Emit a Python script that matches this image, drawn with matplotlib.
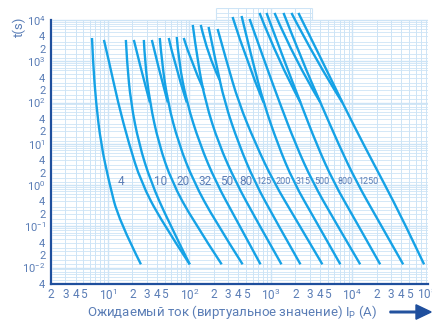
import matplotlib
matplotlib.use("Agg")
import matplotlib.pyplot as plt
from matplotlib.path import Path
from matplotlib.patches import PathPatch, FancyArrow
import numpy as np

# pyright: reportUnknownMemberType=false

plt.rcParams["font.family"] = ["Roboto", "DejaVu Sans"]
plt.rcParams["mathtext.default"] = "regular"

# time levels (s) at which the lower curves were read; first entry per curve is its own top time
level_t = [1000, 100, 10, 1.2, 0.14, 0.012]

# main curves: top time, then current (A) at top and at each of level_t
main_top_t = [3660, 3280, 3280, 3280, 3660, 3880, 7570, 6770, 6060, 12500, 10600, 14800, 14800, 14800]
main_i = [
    [6.37, 6.55, 7.13, 8.21, 10.3, 13.6, 25.4],
    [8.93, 10.3, 13.3, 18.1, 25.4, 44.6, 101],
    [16.6, 17.1, 19.1, 24.0, 33.6, 54.3, 101],
    [27.6, 28.4, 32.7, 42.1, 60.8, 110, 249],
    [43.3, 45.8, 54.3, 74.0, 113, 204, 450],
    [70.0, 74.0, 92.8, 134, 210, 380, 747],
    [110, 126, 158, 229, 369, 667, 1350],
    [172, 210, 271, 402, 631, 1140, 2310],
    [222, 286, 402, 649, 1080, 2060, 4290],
    [437, 596, 813, 1210, 1890, 3520, 7130],
    [548, 836, 1280, 2000, 3240, 6020, 12500],
    [885, 1470, 2310, 3620, 5850, 10900, 22000],
    [1430, 2440, 4060, 6740, 11200, 20800, 42100],
    [2180, 4290, 7540, 13600, 24000, 42100, 76100],
]

# shorter curves that start at the top and run into a neighbour
branch_t = [
    [3280, 1000, 100], [3280, 1000, 100], [3660, 1000, 100], [3660, 1000, 202], [7570, 1420, 353],
    [11800, 1000, 100], [14800, 1000, 100], [14800, 1000, 100], [14800, 1000, 100],
]
branch_i = [
    [20.8, 24.0, 32.7], [34.6, 39.8, 54.3], [55.8, 64.3, 92.8], [85.2, 104, 150], [138, 168, 235],
    [339, 504, 813], [726, 1240, 2310], [1110, 2000, 4060], [1790, 3620, 7540],
]

label_text = ["4", "10", "20", "32", "50", "80", "125", "200", "315", "500", "800", "1250"]
label_i = [14.4, 44.6, 82.8, 158, 287, 490, 813, 1430, 2510, 4290, 8200, 15700]
label_t = 1.2

y_ticks = [1e4, 4e3, 2e3, 1e3, 4e2, 2e2, 1e2, 40, 20, 10, 4, 2, 1, 0.4, 0.2, 0.1, 0.04, 0.02, 0.01, 0.004]
y_labels = ["10$^{4}$", "4", "2", "10$^{3}$", "4", "2", "10$^{2}$", "4", "2", "10$^{1}$", "4", "2",
            "10$^{0}$", "4", "2", "10$^{-1}$", "4", "2", "10$^{-2}$", "4"]
x_ticks = [2, 3, 4, 5, 10, 20, 30, 40, 50, 100, 200, 300, 400, 500, 1e3, 2e3, 3e3, 4e3, 5e3,
           1e4, 2e4, 3e4, 4e4, 5e4]
x_labels = ["2", "3", "4", "5", "10$^{1}$", "2", "3", "4", "5", "10$^{2}$", "2", "3", "4", "5",
            "10$^{3}$", "2", "3", "4", "5", "10$^{4}$", "2", "3", "4", "5"]

XMIN, XMAX = 2.06, 85000
YMIN, YMAX = 0.004, 19500
RAISED = (210, 3240)  # stretch where the grid goes above 10^4

GRID = "#cde4f6"
CURVE = "#15a2e6"
AXIS = "#1f4f9d"
TEXT = "#5a7db6"


def curve_patch(xs, ys):
    # quadratic beziers through the read points (midpoints taken in log space)
    verts = [(xs[0], ys[0])]
    codes = [Path.MOVETO]
    n = len(xs)
    for k in range(1, n - 1):
        if k == n - 2:
            end = (xs[-1], ys[-1])
        else:
            end = (np.sqrt(xs[k] * xs[k + 1]), np.sqrt(ys[k] * ys[k + 1]))
        verts += [(xs[k], ys[k]), end]
        codes += [Path.CURVE3, Path.CURVE3]
    return PathPatch(Path(verts, codes), fill=False, edgecolor=CURVE, lw=1.7,
                     capstyle="butt", zorder=3)


fig = plt.figure(figsize=(4.32, 3.2), dpi=100)
ax = fig.add_axes([51 / 432, 36 / 320, 377 / 432, 276 / 320])
ax.set_xscale("log")
ax.set_yscale("log")
ax.set_xlim(XMIN, XMAX)
ax.set_ylim(YMIN, YMAX)

# grid drawn by hand so it can step up above 10^4
xg = [m * 10.0 ** e for e in range(0, 5) for m in range(1, 10)]
xg = [v for v in xg if XMIN < v < XMAX]
yg = [m * 10.0 ** e for e in range(-3, 5) for m in (1, 1.2, 1.5, 2, 2.5, 3, 4, 5, 6, 7, 8, 9)]
for v in xg:
    top = YMAX if RAISED[0] <= v <= RAISED[1] else 1e4
    lw = 1.0 if abs(np.log10(v) % 1) < 1e-6 else 0.7
    ax.vlines(v, YMIN, top, color=GRID, lw=lw, zorder=1)
for v in yg:
    if YMIN < v <= 1e4:
        lw = 1.0 if abs(np.log10(v) % 1) < 1e-6 else 0.6
        ax.hlines(v, XMIN, XMAX, color=GRID, lw=lw, zorder=1)
    elif 1e4 < v < YMAX:
        ax.hlines(v, RAISED[0], RAISED[1], color=GRID, lw=0.6, zorder=1)
ax.hlines(YMAX * 0.999, RAISED[0], RAISED[1], color=GRID, lw=0.8, zorder=1)
ax.vlines(RAISED, 1e4, YMAX, color=GRID, lw=0.8, zorder=1)

for tt, i_vals in zip(main_top_t, main_i):
    ax.add_patch(curve_patch(i_vals, [tt] + level_t))
for t_vals, i_vals in zip(branch_t, branch_i):
    ax.add_patch(curve_patch(i_vals, t_vals))

for s, xi in zip(label_text, label_i):
    small = len(s) >= 3
    ax.text(xi, label_t, s, color=TEXT, fontsize=6.5 if small else 8.5,
            ha="center", va="center", zorder=4)

for side in ("top", "right"):
    ax.spines[side].set_visible(False)
ax.spines["left"].set_bounds(YMIN, 1e4)
for side in ("left", "bottom"):
    ax.spines[side].set_color(AXIS)
    ax.spines[side].set_linewidth(1.6)

ax.set_yticks(y_ticks, y_labels)
ax.set_xticks(x_ticks, x_labels)
ax.minorticks_off()
ax.tick_params(length=0, colors=TEXT, labelsize=8.5)
ax.tick_params(axis="y", pad=4, labelsize=8)
ax.tick_params(axis="x", pad=3)
fig.text(427 / 432, 1 - 294 / 320, "10$^{5}$", ha="center", va="center", color=TEXT, fontsize=8.5)

fig.text(19 / 432, 1 - 27 / 320, "t(s)", rotation=90, color=TEXT, fontsize=9.5,
         ha="center", va="center")
fig.text(232 / 432, 1 - 312 / 320, "Ожидаемый ток (виртуальное значение) I$_{P}$ (A)",
         color=TEXT, fontsize=9.5, ha="center", va="center")
fig.add_artist(FancyArrow(390 / 432, 1 - 312 / 320, 26 / 432, 0,
                          width=0.005, head_width=0.045, head_length=0.035,
                          length_includes_head=False, color=AXIS, transform=fig.transFigure))

fig.savefig("out.png", dpi=100)
